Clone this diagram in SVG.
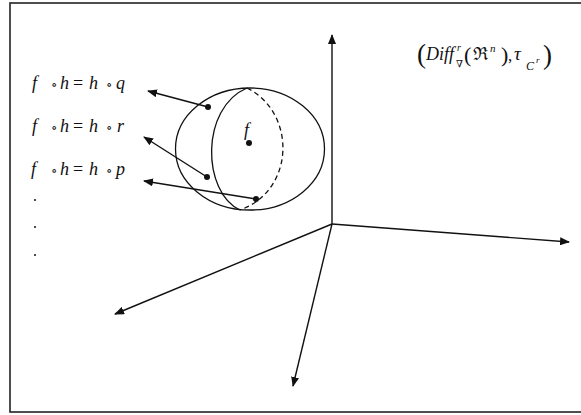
<svg xmlns="http://www.w3.org/2000/svg" width="581" height="415" viewBox="0 0 581 415">
<style>
.ln{stroke:#111;stroke-width:1.3;fill:none}
.ax{stroke:#111;stroke-width:1.4;fill:none;marker-end:url(#ah)}
.m{font-family:"Liberation Serif","DejaVu Serif",serif;font-style:italic;fill:#111}
.r{font-family:"Liberation Serif","DejaVu Serif",serif;font-style:normal;fill:#111}
.dot{fill:#111}
</style>
<defs>
<marker id="ah" viewBox="0 0 10 8" refX="9" refY="4" markerWidth="10" markerHeight="8" markerUnits="userSpaceOnUse" orient="auto">
<path d="M0,0 L10,4 L0,8 Z" fill="#111"/>
</marker>
</defs>
<rect x="10" y="3" width="600" height="409" fill="#fff" stroke="#222" stroke-width="1.6"/>
<g id="connectors">
<line class="ax" x1="332" y1="224" x2="332" y2="35"/>
<line class="ax" x1="332" y1="224" x2="569" y2="242"/>
<line class="ax" x1="332" y1="224" x2="115" y2="314"/>
<line class="ax" x1="332" y1="224" x2="293" y2="386"/>
<line class="ax" x1="208" y1="107" x2="148" y2="91"/>
<line class="ax" x1="207" y1="177" x2="144" y2="137"/>
<line class="ax" x1="256" y1="199" x2="144" y2="181"/>
</g>
<g id="sphere">
<ellipse class="ln" cx="250" cy="149" rx="74.5" ry="61"/>
<path class="ln" d="M247 88 C200 108 202 192 240 210"/>
<path class="ln" d="M247 88 C296 112 296 190 240 210" stroke-dasharray="5 3.5"/>
<circle class="dot" cx="208" cy="107" r="3"/>
<circle class="dot" cx="207" cy="177" r="3"/>
<circle class="dot" cx="256" cy="199" r="3"/>
<circle class="dot" cx="249" cy="143" r="3"/>
<text class="m" x="244" y="136" font-size="18">f</text>
</g>
<g id="label-q">
<text class="m" font-size="18" y="89"><tspan x="32">f</tspan><tspan class="r" x="51" font-size="13">∘</tspan><tspan x="60">h</tspan><tspan class="r" x="73">=</tspan><tspan x="89">h</tspan><tspan class="r" x="106" font-size="13">∘</tspan><tspan x="116">q</tspan></text>
</g>
<g id="label-r">
<text class="m" font-size="18" y="132"><tspan x="32">f</tspan><tspan class="r" x="51" font-size="13">∘</tspan><tspan x="60">h</tspan><tspan class="r" x="73">=</tspan><tspan x="89">h</tspan><tspan class="r" x="106" font-size="13">∘</tspan><tspan x="117">r</tspan></text>
</g>
<g id="label-p">
<text class="m" font-size="18" y="175"><tspan x="31">f</tspan><tspan class="r" x="51" font-size="13">∘</tspan><tspan x="60">h</tspan><tspan class="r" x="73">=</tspan><tspan x="89">h</tspan><tspan class="r" x="106" font-size="13">∘</tspan><tspan x="116">p</tspan></text>
</g>
<g id="ellipsis">
<circle class="dot" cx="35" cy="200" r="1"/>
<circle class="dot" cx="35" cy="227" r="1"/>
<circle class="dot" cx="35" cy="255" r="1"/>
</g>
<g id="space-label">
<text class="r" x="417" y="63" font-size="27">(</text>
<text class="m" x="426" y="60" font-size="19" textLength="28" lengthAdjust="spacingAndGlyphs">Diff</text>
<text class="m" x="457" y="51" font-size="10">r</text>
<text class="r" x="456" y="67" font-size="10">∇</text>
<text class="r" x="464" y="62" font-size="22">(</text>
<text class="r" x="473" y="60" font-size="18">ℜ</text>
<text class="m" x="490" y="52" font-size="11">n</text>
<text class="r" x="501" y="62" font-size="22">)</text>
<text class="r" x="508" y="61" font-size="17">,</text>
<text class="m" x="514" y="60" font-size="19">τ</text>
<text class="m" x="526" y="70" font-size="12">C</text>
<text class="m" x="536" y="63" font-size="9">r</text>
<text class="r" x="543" y="64" font-size="27">)</text>
</g>
</svg>
